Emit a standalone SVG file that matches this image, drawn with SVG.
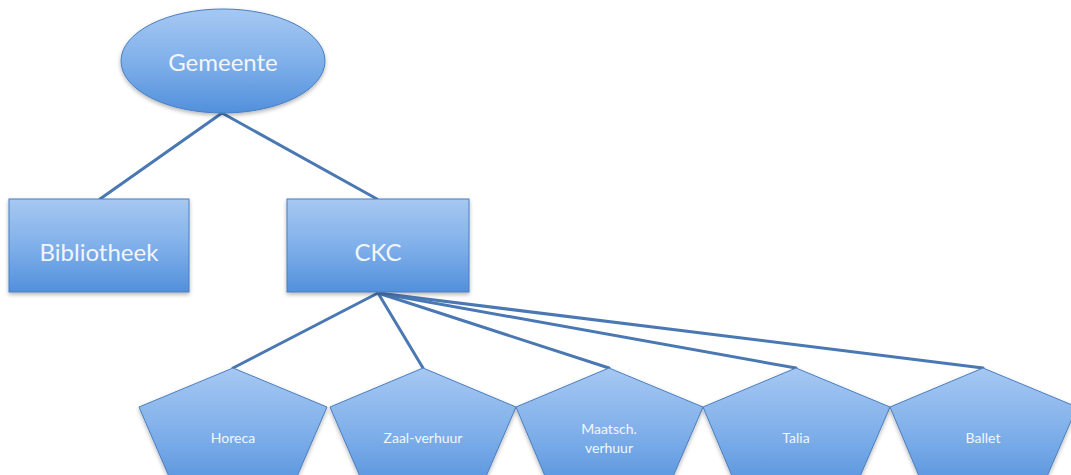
<svg xmlns="http://www.w3.org/2000/svg" width="1071" height="475" viewBox="0 0 1071 475">
  <defs>
    <linearGradient id="fillGrad" x1="0" y1="0" x2="0" y2="1">
      <stop offset="0" stop-color="#a6c8f2"/>
      <stop offset="0.5" stop-color="#80b0ea"/>
      <stop offset="1" stop-color="#5290dc"/>
    </linearGradient>
    <filter id="shadow" x="-10%" y="-10%" width="120%" height="130%">
      <feGaussianBlur in="SourceAlpha" stdDeviation="2"/>
      <feOffset dx="0" dy="2" result="b"/>
      <feComponentTransfer><feFuncA type="linear" slope="0.3"/></feComponentTransfer>
      <feMerge><feMergeNode/><feMergeNode in="SourceGraphic"/></feMerge>
    </filter>
  </defs>
  <style>
    .shape { fill: url(#fillGrad); stroke: #4a7fc0; stroke-width: 1; filter: url(#shadow); }
    .conn { stroke: #4a78b3; stroke-width: 3; fill: none; stroke-linecap: round; }
    .big { font-family: Lato, "Open Sans", sans-serif; font-size: 24px; fill: #f2f6fc; text-anchor: middle; dominant-baseline: central; }
    .small { font-family: Lato, "Open Sans", sans-serif; font-size: 14px; fill: #f2f6fc; text-anchor: middle; dominant-baseline: central; }
  </style>
  <rect width="1071" height="475" fill="#ffffff"/>

  <g id="connectors">
    <line class="conn" x1="222" y1="113" x2="100" y2="199"/>
    <line class="conn" x1="222" y1="113" x2="377" y2="199"/>
    <line class="conn" x1="378" y1="293" x2="233" y2="368"/>
    <line class="conn" x1="378" y1="293" x2="423" y2="368"/>
    <line class="conn" x1="378" y1="293" x2="609" y2="368"/>
    <line class="conn" x1="378" y1="293" x2="796" y2="368"/>
    <line class="conn" x1="378" y1="293" x2="983" y2="368"/>
  </g>

  <g id="gemeente">
    <ellipse class="shape" cx="223" cy="61" rx="102" ry="52"/>
    <text class="big" x="223" y="61">Gemeente</text>
  </g>

  <g id="bibliotheek">
    <rect class="shape" x="9" y="199" width="180" height="93"/>
    <text class="big" x="99" y="251">Bibliotheek</text>
  </g>

  <g id="ckc">
    <rect class="shape" x="287" y="199" width="182" height="93"/>
    <text class="big" x="378" y="251">CKC</text>
  </g>

  <g id="horeca">
    <polygon class="shape" points="233,368 327,407 289,495 177,495 139,407"/>
    <text class="small" x="233" y="437">Horeca</text>
  </g>

  <g id="zaalverhuur">
    <polygon class="shape" points="423,368 516,407 478,495 368,495 330,407"/>
    <text class="small" x="423" y="437">Zaal-verhuur</text>
  </g>

  <g id="maatsch">
    <polygon class="shape" points="609,368 703,407 665,495 553,495 516,407"/>
    <text class="small" x="609" y="428">Maatsch.</text>
    <text class="small" x="609" y="447">verhuur</text>
  </g>

  <g id="talia">
    <polygon class="shape" points="796,368 890,407 852,495 740,495 703,407"/>
    <text class="small" x="796" y="437">Talia</text>
  </g>

  <g id="ballet">
    <polygon class="shape" points="983,368 1077,407 1039,495 927,495 890,407"/>
    <text class="small" x="983" y="437">Ballet</text>
  </g>
</svg>
